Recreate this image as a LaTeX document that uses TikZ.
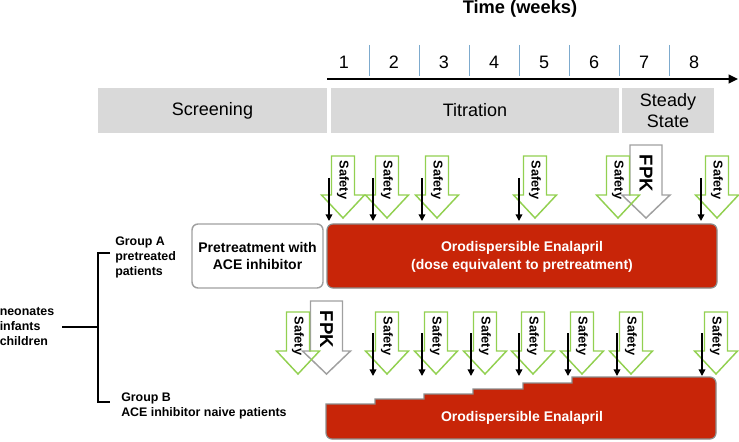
\documentclass[tikz,border=0pt]{standalone}
\usepackage{fontspec}
\setmainfont{Liberation Sans}
\usetikzlibrary{arrows.meta}
\definecolor{barg}{RGB}{217,217,217}
\definecolor{redf}{RGB}{200,37,8}
\definecolor{greenl}{RGB}{146,208,80}
\definecolor{tickc}{RGB}{125,170,205}
\definecolor{fpkg}{RGB}{160,160,160}
\definecolor{edgeg}{RGB}{140,140,140}
\tikzset{
  numst/.style={font=\fontsize{13.5}{16}\selectfont, inner sep=0pt},
  bartxt/.style={font=\fontsize{13.5}{15.75}\selectfont, align=center, inner sep=0pt},
  tickst/.style={draw=tickc, line width=0.6pt},
  safetyst/.style={draw=greenl, line width=1.1pt, line join=miter},
  fpkst/.style={draw=fpkg, line width=1.1pt, line join=miter},
  safetytxt/.style={font=\bfseries\fontsize{9.6}{10}\selectfont, rotate=-90, inner sep=0pt},
  fpktxt/.style={font=\bfseries\fontsize{14}{16}\selectfont, rotate=-90, inner sep=0pt},
  blackarr/.style={draw=black, line width=1.1pt, -{Triangle[length=5pt,width=5pt]}},
  grouptxt/.style={font=\bfseries\fontsize{9.3}{11.25}\selectfont, align=left, inner sep=0pt, anchor=west},
  redtxt/.style={font=\bfseries\fontsize{10.5}{13.5}\selectfont, text=white, align=center, inner sep=0pt},
  redbox/.style={fill=redf, draw=edgeg, line width=0.9pt},
  bracket/.style={draw=black, line width=1.1pt}
}
\newcommand\safetyarr[3]{%
  \draw[safetyst] (#2-11.5,#3) -- (#2+11.5,#3) -- (#2+11.5,#3+39) -- (#2+21.5,#3+39) -- (#2,#3+62) -- (#2-21.5,#3+39) -- (#2-11.5,#3+39) -- cycle;
  \node[safetytxt] (#1) at (#2,#3+24) {Safety};}
\newcommand\fpkarr[3]{%
  \draw[fpkst] (#2-16,#3) -- (#2+16,#3) -- (#2+16,#3+50) -- (#2+24,#3+50) -- (#2,#3+73) -- (#2-24,#3+50) -- (#2-16,#3+50) -- cycle;
  \node[fpktxt] (#1) at (#2,#3+28.5) {FPK};}
\begin{document}
\begin{tikzpicture}[x=0.75pt,y=-0.75pt]
\useasboundingbox (0,0) rectangle (739,442);
% title and axis
\node[font=\bfseries\fontsize{13.7}{16}\selectfont, inner sep=0pt] (title) at (520,9) {Time (weeks)};
\coordinate (ax0) at (327,79);
\coordinate (ax1) at (738,79);
\draw[line width=1.5pt, -{Triangle[length=7pt,width=6.5pt]}] (ax0) -- (ax1);
\foreach \i in {1,...,7} \draw[tickst] ({369+50*(\i-1)},45) -- ++(0,31);
\foreach \i in {1,...,8} \node[numst] (w\i) at ({344+50*(\i-1)},62) {\i};
% phase bars
\fill[barg] (98,88) rectangle (327,133);
\fill[barg] (331,88) rectangle (619,133);
\fill[barg] (622,88) rectangle (714,133);
\node[bartxt] (scr) at (212.5,110.5) {Screening};
\node[bartxt] (tit) at (475,110.5) {Titration};
\node[bartxt] (ste) at (668,110.5) {Steady\\State};
% group A
\node[draw=fpkg, fill=white, line width=1.1pt, rounded corners=4.5pt, minimum width=131*0.75pt, minimum height=64*0.75pt, font=\bfseries\fontsize{10.5}{12.75}\selectfont, align=center, inner sep=0pt] (pre) at (257.5,256) {Pretreatment with\\ACE inhibitor};
\node[redbox, rounded corners=4.5pt, minimum width=390*0.75pt, minimum height=64*0.75pt] (ra) at (522,256) {};
\node[redtxt] (ratxt) at (522,257) {Orodispersible Enalapril\\(dose equivalent to pretreatment)};
% group B
\path[redbox] (326,404) -- (375,404) -- (375,399) -- (424,399) -- (424,394) -- (473,394) -- (473,389) -- (523,389) -- (523,383) -- (572,383) -- (572,377) -- (650,377) [rounded corners=4.5pt] -- (716,377) -- (716,439) -- (326,439) [sharp corners] -- cycle;
\node[redtxt] (rbtxt) at (522,418) {Orodispersible Enalapril};
% left labels and bracket
\node[grouptxt] (pop) at (-0.5,327) {neonates\\infants\\children};
\node[grouptxt] (ga) at (115,257) {Group A\\pretreated\\patients};
\node[grouptxt] (gb) at (121,406) {Group B\\ACE inhibitor naive patients};
\coordinate (lm) at (62,327);
\coordinate (bm) at (98,327);
\coordinate (bt) at (110,253);
\coordinate (bb) at (110,402);
\draw[bracket] (lm) -- (bm);
\draw[bracket] (bt) -| (bm) |- (bb);
% row 1 arrows
\fpkarr{fa}{646}{145}
\safetyarr{sa1}{343}{156}
\safetyarr{sa2}{387}{156}
\safetyarr{sa3}{437}{156}
\safetyarr{sa4}{535}{156}
\safetyarr{sa5}{618}{156}
\safetyarr{sa6}{717}{156}
\foreach \x [count=\k] in {329,373,422,519,701} {
  \coordinate (at\k) at (\x,178);
  \coordinate (ab\k) at (\x,221);
  \draw[blackarr] (at\k) -- (ab\k);
}
% row 2 arrows
\fpkarr{fb}{326.5}{301}
\safetyarr{sb1}{298}{312}
\safetyarr{sb2}{387}{312}
\safetyarr{sb3}{436}{312}
\safetyarr{sb4}{485}{312}
\safetyarr{sb5}{533}{312}
\safetyarr{sb6}{582}{312}
\safetyarr{sb7}{631}{312}
\safetyarr{sb8}{716}{312}
\foreach \x [count=\k] in {373,422,471,519,568,617,702} {
  \coordinate (bt\k) at (\x,333);
  \coordinate (bbb\k) at (\x,376);
  \draw[blackarr] (bt\k) -- (bbb\k);
}
\end{tikzpicture}
\end{document}
